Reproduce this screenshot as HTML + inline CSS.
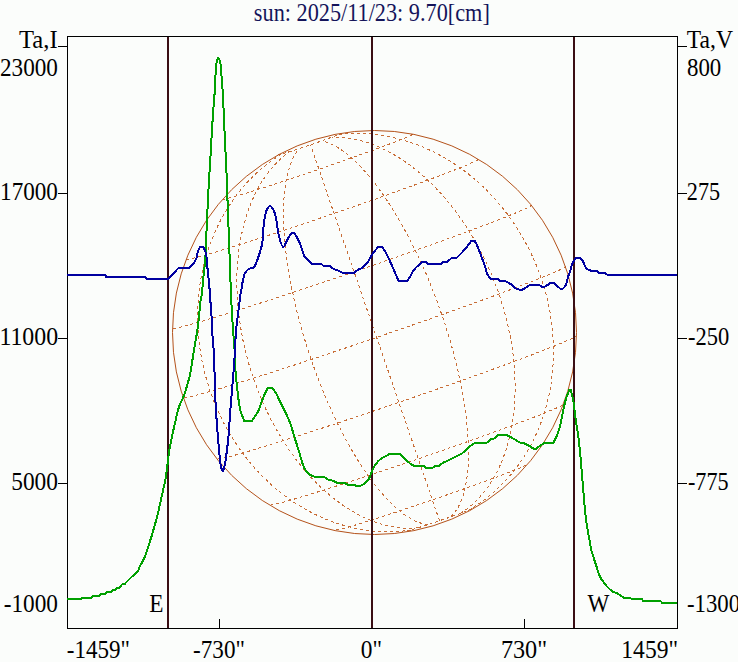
<!DOCTYPE html>
<html><head><meta charset="utf-8">
<style>
html,body{margin:0;padding:0;background:#FBFDFB;overflow:hidden;}
svg{display:block;}
text{font-family:"Liberation Serif", serif;font-size:24px;fill:#000;}
</style></head><body>
<svg width="738" height="662" viewBox="0 0 738 662">
<rect x="0" y="0" width="738" height="662" fill="#FBFDFB"/>
<g stroke="#000" stroke-width="1" fill="none" shape-rendering="crispEdges">
<rect x="67.5" y="36.5" width="610" height="592"/>
<path d="M58,46.5H67 M58,193.5H67 M58,338.5H67 M58,483.5H67"/>
<path d="M677,46.5H687 M677,193.5H687 M677,338.5H687 M677,483.5H687"/>
<path d="M219.5,619V628 M524.5,619V628"/>
</g>
<path d="M406.5,531.1 408.5,530.7 410.6,530.1 412.5,529.5 414.5,528.9 416.6,528.3 418.5,527.7 420.6,527.0 422.6,526.4 424.6,525.7 426.8,525.0 428.7,524.4 430.6,523.7 432.6,523.1 434.6,522.4 436.6,521.7 438.6,521.0 440.6,520.3 442.7,519.6 444.7,518.9 446.7,518.3 448.6,517.6 450.5,516.9 452.7,516.1 454.8,515.4 456.8,514.7 458.7,514.0 460.7,513.2 462.6,512.5 464.6,511.7 466.5,511.0 468.5,510.2 470.3,509.4 471.9,508.7 M336.1,529.9 338.2,529.7 340.3,529.2 342.6,528.7 344.5,528.2 346.7,527.5 348.7,527.0 350.9,526.4 353.2,525.7 355.2,525.1 357.2,524.5 359.4,523.8 361.6,523.1 363.9,522.4 366.3,521.7 368.8,520.9 370.7,520.3 372.7,519.7 374.7,519.1 376.7,518.4 378.8,517.7 380.9,517.1 383.0,516.4 385.2,515.7 387.4,515.0 389.6,514.2 391.9,513.5 394.2,512.7 396.5,512.0 398.8,511.2 401.2,510.4 403.6,509.6 406.0,508.8 408.4,508.0 410.8,507.2 413.3,506.4 415.7,505.6 418.2,504.7 420.7,503.9 423.2,503.0 425.7,502.2 428.2,501.3 430.7,500.5 433.2,499.6 435.7,498.8 438.2,497.9 440.7,497.0 443.1,496.2 445.6,495.3 448.1,494.5 450.5,493.6 453.0,492.8 455.4,491.9 457.8,491.1 460.2,490.2 462.6,489.4 464.9,488.5 467.3,487.7 469.6,486.9 471.9,486.1 474.1,485.3 476.3,484.5 478.5,483.7 480.7,482.9 482.8,482.1 484.9,481.4 486.9,480.6 488.9,479.9 490.9,479.2 492.9,478.4 494.7,477.7 497.2,476.8 499.6,475.9 501.9,475.1 504.1,474.2 506.2,473.4 508.2,472.6 510.1,471.9 512.4,471.0 514.6,470.1 516.5,469.3 518.7,468.5 520.6,467.6 522.5,466.8 524.4,465.9 526.3,464.9 526.8,464.5 M270.5,504.7 272.7,504.7 274.8,504.3 276.9,503.8 278.9,503.3 281.2,502.7 283.2,502.2 285.3,501.6 287.7,501.0 290.2,500.3 292.1,499.7 294.2,499.1 296.3,498.5 298.5,497.8 300.8,497.1 303.2,496.4 305.6,495.7 308.2,494.9 310.8,494.1 313.4,493.3 316.2,492.4 319.0,491.6 320.9,491.0 322.9,490.4 324.8,489.7 326.8,489.1 328.9,488.5 330.9,487.8 333.0,487.1 335.1,486.5 337.2,485.8 339.4,485.1 341.6,484.4 343.8,483.7 346.0,483.0 348.3,482.2 350.5,481.5 352.8,480.7 355.1,480.0 357.4,479.2 359.8,478.5 362.1,477.7 364.5,476.9 366.9,476.1 369.3,475.3 371.7,474.5 374.2,473.7 376.6,472.9 379.1,472.1 381.6,471.2 384.0,470.4 386.5,469.6 389.0,468.7 391.6,467.9 394.1,467.0 396.6,466.2 399.1,465.3 401.7,464.5 404.2,463.6 406.8,462.7 409.3,461.9 411.9,461.0 414.4,460.1 417.0,459.2 419.5,458.4 422.1,457.5 424.6,456.6 427.2,455.7 429.7,454.9 432.3,454.0 434.8,453.1 437.3,452.2 439.8,451.3 442.4,450.5 444.9,449.6 447.4,448.7 449.9,447.8 452.4,447.0 454.8,446.1 457.3,445.2 459.7,444.4 462.2,443.5 464.6,442.7 467.0,441.8 469.4,441.0 471.8,440.1 474.1,439.3 476.5,438.4 478.8,437.6 481.1,436.8 483.4,436.0 485.6,435.1 487.9,434.3 490.1,433.5 492.3,432.7 494.5,431.9 496.6,431.2 498.7,430.4 500.8,429.6 502.9,428.9 505.0,428.1 507.0,427.4 509.0,426.6 511.0,425.9 512.9,425.2 514.8,424.5 516.7,423.8 519.5,422.7 522.1,421.7 524.8,420.7 527.3,419.8 529.8,418.8 532.2,417.9 534.5,417.0 536.7,416.1 538.9,415.3 540.9,414.5 542.9,413.7 544.8,412.9 547.2,412.0 549.4,411.0 551.5,410.2 553.4,409.4 555.6,408.4 557.5,407.6 559.4,406.7 561.3,405.7 563.0,404.5 563.0,404.4 M217.7,458.7 219.8,458.7 221.9,458.4 224.2,457.9 226.5,457.4 228.5,456.8 230.8,456.3 233.2,455.6 235.2,455.1 237.3,454.5 239.5,453.9 241.8,453.2 244.2,452.6 246.7,451.8 249.3,451.1 252.0,450.2 254.8,449.4 256.8,448.8 258.7,448.2 260.8,447.6 262.8,447.0 264.9,446.4 267.1,445.7 269.2,445.0 271.5,444.3 273.7,443.6 276.0,442.9 278.3,442.2 280.7,441.4 283.1,440.7 285.5,439.9 288.0,439.1 290.5,438.3 293.1,437.5 295.6,436.7 298.2,435.9 300.9,435.0 303.5,434.2 306.2,433.3 308.9,432.4 311.7,431.5 314.4,430.6 317.2,429.7 320.0,428.8 322.9,427.9 325.7,426.9 328.6,426.0 331.5,425.0 334.5,424.1 337.4,423.1 340.4,422.1 343.3,421.1 346.3,420.1 349.4,419.1 352.4,418.1 355.4,417.1 358.5,416.1 361.5,415.1 364.6,414.0 367.7,413.0 370.8,411.9 373.9,410.9 377.0,409.8 380.1,408.8 383.2,407.7 386.4,406.7 389.5,405.6 392.6,404.5 395.8,403.4 398.9,402.4 402.0,401.3 405.2,400.2 408.3,399.1 411.4,398.1 414.5,397.0 417.6,395.9 420.7,394.8 423.8,393.8 426.9,392.7 430.0,391.6 433.1,390.5 436.2,389.5 439.2,388.4 442.2,387.3 445.3,386.3 448.3,385.2 451.3,384.1 454.3,383.1 457.2,382.0 460.2,381.0 463.1,380.0 466.0,378.9 468.9,377.9 471.7,376.9 474.6,375.9 477.4,374.9 480.2,373.9 482.9,372.9 485.7,371.9 488.4,370.9 491.1,369.9 493.7,368.9 496.3,368.0 498.9,367.0 501.5,366.1 504.0,365.2 506.5,364.3 509.0,363.4 511.4,362.5 513.8,361.6 516.2,360.7 518.5,359.8 520.8,359.0 523.0,358.1 525.3,357.3 527.4,356.5 529.6,355.7 531.7,354.9 533.7,354.1 535.7,353.3 537.7,352.6 539.6,351.8 541.5,351.1 544.2,350.0 546.9,349.0 549.4,348.0 551.8,347.0 554.2,346.1 556.4,345.2 558.5,344.3 560.5,343.5 562.4,342.7 564.7,341.7 566.8,340.8 568.8,340.0 570.9,339.0 573.0,338.0 574.8,337.0 576.5,335.7 576.5,335.6 M183.7,397.3 185.8,397.4 187.9,397.1 190.3,396.6 192.6,396.1 194.7,395.5 197.1,394.9 199.6,394.3 201.7,393.7 203.9,393.1 206.2,392.5 208.6,391.8 211.1,391.1 213.7,390.3 216.5,389.5 219.3,388.7 221.3,388.1 223.3,387.5 225.4,386.9 227.5,386.2 229.6,385.6 231.8,384.9 234.0,384.2 236.3,383.5 238.6,382.8 241.0,382.1 243.4,381.3 245.8,380.6 248.3,379.8 250.8,379.0 253.4,378.2 256.0,377.4 258.6,376.5 261.3,375.7 264.0,374.8 266.7,374.0 269.5,373.1 272.3,372.2 275.1,371.3 278.0,370.4 280.9,369.4 283.8,368.5 286.7,367.5 289.7,366.5 292.7,365.6 295.7,364.6 298.8,363.6 301.8,362.6 304.9,361.5 308.0,360.5 311.2,359.5 314.3,358.4 317.5,357.4 320.7,356.3 323.9,355.3 327.1,354.2 330.4,353.1 333.6,352.0 336.9,350.9 340.1,349.8 343.4,348.7 346.7,347.6 350.0,346.5 353.3,345.4 356.6,344.2 360.0,343.1 363.3,342.0 366.6,340.8 369.9,339.7 373.3,338.6 376.6,337.4 379.9,336.3 383.3,335.1 386.6,334.0 389.9,332.8 393.3,331.7 396.6,330.5 399.9,329.4 403.2,328.3 406.5,327.1 409.7,326.0 413.0,324.8 416.3,323.7 419.5,322.5 422.8,321.4 426.0,320.3 429.2,319.2 432.4,318.0 435.5,316.9 438.7,315.8 441.8,314.7 444.9,313.6 448.0,312.5 451.1,311.4 454.1,310.3 457.1,309.2 460.1,308.1 463.1,307.1 466.0,306.0 469.0,305.0 471.8,303.9 474.7,302.9 477.5,301.9 480.3,300.8 483.1,299.8 485.8,298.8 488.5,297.8 491.2,296.9 493.8,295.9 496.4,294.9 498.9,294.0 501.4,293.1 503.9,292.1 506.3,291.2 508.7,290.3 511.1,289.5 513.4,288.6 515.7,287.7 517.9,286.9 520.1,286.0 522.2,285.2 524.3,284.4 526.4,283.6 528.4,282.9 530.3,282.1 532.2,281.4 535.0,280.3 537.7,279.2 540.2,278.2 542.6,277.2 545.0,276.3 547.2,275.4 549.3,274.5 551.2,273.7 553.1,272.9 555.3,271.9 557.4,271.0 559.2,270.2 561.2,269.2 563.1,268.2 564.8,267.2 565.7,266.3 M172.8,328.0 174.8,328.2 177.1,327.8 179.4,327.3 181.7,326.8 183.7,326.3 186.0,325.7 188.4,325.0 190.4,324.5 192.5,323.9 194.7,323.3 197.0,322.7 199.4,322.0 201.9,321.2 204.5,320.5 207.2,319.7 210.1,318.8 212.0,318.2 214.0,317.7 216.0,317.0 218.0,316.4 220.1,315.8 222.3,315.1 224.5,314.4 226.7,313.8 228.9,313.1 231.2,312.3 233.6,311.6 235.9,310.9 238.3,310.1 240.8,309.3 243.2,308.6 245.7,307.8 248.3,307.0 250.8,306.1 253.4,305.3 256.1,304.5 258.7,303.6 261.4,302.7 264.1,301.9 266.9,301.0 269.6,300.1 272.4,299.2 275.2,298.2 278.1,297.3 281.0,296.4 283.8,295.4 286.7,294.5 289.7,293.5 292.6,292.5 295.6,291.5 298.6,290.6 301.6,289.6 304.6,288.6 307.6,287.5 310.6,286.5 313.7,285.5 316.8,284.5 319.8,283.4 322.9,282.4 326.0,281.4 329.1,280.3 332.2,279.3 335.3,278.2 338.5,277.1 341.6,276.1 344.7,275.0 347.8,273.9 351.0,272.9 354.1,271.8 357.2,270.7 360.4,269.6 363.5,268.6 366.6,267.5 369.7,266.4 372.9,265.3 376.0,264.3 379.1,263.2 382.2,262.1 385.2,261.0 388.3,260.0 391.4,258.9 394.4,257.8 397.5,256.7 400.5,255.7 403.5,254.6 406.5,253.6 409.5,252.5 412.4,251.5 415.4,250.4 418.3,249.4 421.2,248.3 424.1,247.3 426.9,246.3 429.8,245.3 432.6,244.3 435.4,243.3 438.1,242.3 440.9,241.3 443.6,240.3 446.3,239.3 448.9,238.4 451.6,237.4 454.1,236.5 456.7,235.5 459.2,234.6 461.7,233.7 464.2,232.8 466.6,231.9 469.0,231.0 471.4,230.1 473.7,229.2 476.0,228.4 478.3,227.5 480.5,226.7 482.6,225.9 484.8,225.1 486.9,224.3 488.9,223.5 490.9,222.7 492.9,222.0 494.8,221.2 496.7,220.5 499.4,219.5 502.1,218.4 504.6,217.4 507.0,216.5 509.4,215.5 511.6,214.6 513.7,213.8 515.7,212.9 517.6,212.1 519.9,211.2 522.1,210.2 524.0,209.4 526.1,208.4 528.2,207.4 530.0,206.4 531.7,205.1 531.7,204.9 M186.3,259.2 188.3,259.3 190.4,258.9 192.4,258.5 194.3,258.0 196.5,257.5 198.5,256.9 200.6,256.4 202.9,255.7 205.4,255.0 207.3,254.5 209.3,253.9 211.4,253.3 213.6,252.6 215.9,252.0 218.2,251.3 220.6,250.5 223.1,249.8 225.7,249.0 228.4,248.2 231.1,247.3 233.9,246.4 236.8,245.6 238.7,244.9 240.7,244.3 242.7,243.7 244.7,243.0 246.8,242.4 248.8,241.7 250.9,241.1 253.1,240.4 255.2,239.7 257.4,239.0 259.6,238.3 261.8,237.5 264.1,236.8 266.4,236.1 268.6,235.3 270.9,234.6 273.3,233.8 275.6,233.0 278.0,232.3 280.4,231.5 282.7,230.7 285.2,229.9 287.6,229.1 290.0,228.3 292.5,227.5 294.9,226.6 297.4,225.8 299.9,225.0 302.4,224.2 304.9,223.3 307.4,222.5 309.9,221.6 312.4,220.8 315.0,219.9 317.5,219.0 320.0,218.2 322.6,217.3 325.1,216.4 327.7,215.6 330.2,214.7 332.8,213.8 335.4,213.0 337.9,212.1 340.5,211.2 343.0,210.3 345.5,209.4 348.1,208.6 350.6,207.7 353.2,206.8 355.7,205.9 358.2,205.1 360.7,204.2 363.2,203.3 365.7,202.4 368.2,201.6 370.7,200.7 373.1,199.8 375.6,199.0 378.0,198.1 380.4,197.2 382.8,196.4 385.2,195.5 387.6,194.7 389.9,193.9 392.3,193.0 394.6,192.2 396.9,191.4 399.2,190.6 401.5,189.7 403.7,188.9 405.9,188.1 408.1,187.3 410.3,186.5 412.4,185.8 414.6,185.0 416.7,184.2 418.8,183.5 420.8,182.7 422.8,182.0 424.8,181.2 426.8,180.5 428.7,179.8 430.6,179.1 432.5,178.4 435.3,177.3 438.0,176.3 440.6,175.3 443.1,174.4 445.6,173.4 448.0,172.5 450.3,171.6 452.6,170.7 454.7,169.9 456.8,169.1 458.8,168.3 460.7,167.5 463.0,166.6 465.3,165.6 467.3,164.8 469.3,164.0 471.4,163.0 473.3,162.2 475.2,161.3 477.1,160.3 478.8,159.1 478.9,158.9 M222.5,199.2 224.6,199.1 226.7,198.6 228.9,198.1 231.1,197.5 233.3,196.9 235.3,196.3 237.5,195.7 239.8,195.0 241.8,194.4 243.8,193.8 246.0,193.2 248.2,192.5 250.5,191.8 252.9,191.0 255.4,190.3 257.3,189.7 259.3,189.0 261.3,188.4 263.3,187.8 265.4,187.1 267.5,186.4 269.6,185.7 271.8,185.0 274.0,184.3 276.2,183.6 278.5,182.8 280.8,182.1 283.1,181.3 285.4,180.6 287.8,179.8 290.2,179.0 292.6,178.2 295.0,177.4 297.4,176.6 299.9,175.7 302.3,174.9 304.8,174.1 307.3,173.2 309.8,172.4 312.3,171.5 314.8,170.7 317.3,169.8 319.8,169.0 322.3,168.1 324.8,167.3 327.3,166.4 329.7,165.5 332.2,164.7 334.7,163.8 337.1,163.0 339.6,162.1 342.0,161.3 344.4,160.4 346.8,159.6 349.2,158.7 351.5,157.9 353.9,157.1 356.2,156.3 358.5,155.4 360.7,154.6 362.9,153.8 365.1,153.0 367.3,152.3 369.4,151.5 371.5,150.7 373.5,150.0 375.6,149.2 377.5,148.5 379.5,147.8 381.4,147.1 383.8,146.2 386.2,145.3 388.5,144.4 390.7,143.6 392.8,142.8 394.8,142.0 396.7,141.2 399.0,140.3 401.2,139.5 403.1,138.7 405.3,137.8 407.2,137.0 409.1,136.2 411.0,135.3 412.9,134.3 413.5,133.7 M277.0,155.1 279.0,154.8 281.1,154.3 283.1,153.7 285.0,153.1 287.0,152.5 288.9,151.9 291.0,151.2 292.9,150.6 294.9,150.0 297.0,149.3 299.2,148.6 301.1,147.9 303.1,147.3 305.1,146.6 307.1,145.9 309.1,145.2 311.1,144.5 313.1,143.9 315.1,143.2 317.1,142.5 319.1,141.8 321.0,141.1 322.9,140.4 325.0,139.7 327.1,138.9 329.0,138.2 331.1,137.5 333.1,136.7 335.1,136.0 337.1,135.2 338.9,134.5 340.9,133.7 342.7,132.8 343.4,132.4 M410.6,530.1 407.6,530.5 404.5,530.9 401.5,531.2 398.4,531.4 395.4,531.6 392.3,531.7 389.2,531.7 386.1,531.7 383.0,531.6 380.0,531.5 376.9,531.3 373.8,531.1 370.7,530.8 367.6,530.4 364.5,529.9 361.4,529.4 358.4,528.9 355.3,528.3 352.2,527.6 349.2,526.9 346.1,526.1 343.1,525.2 340.0,524.3 337.0,523.3 334.0,522.3 331.0,521.2 328.0,520.1 325.0,518.9 322.1,517.6 319.1,516.3 316.2,514.9 313.3,513.5 310.4,512.0 307.5,510.5 304.7,508.9 301.9,507.2 299.1,505.5 296.3,503.8 293.5,501.9 290.8,500.1 288.1,498.2 285.4,496.2 282.8,494.2 280.1,492.1 277.5,490.0 275.0,487.9 272.4,485.7 269.9,483.4 267.5,481.1 265.0,478.8 262.6,476.4 260.2,474.0 257.9,471.5 255.6,469.0 253.3,466.4 251.1,463.8 248.9,461.2 246.7,458.5 244.6,455.8 242.6,453.0 240.5,450.2 238.5,447.4 236.6,444.5 234.7,441.6 232.8,438.7 231.0,435.7 229.2,432.7 227.5,429.7 225.8,426.6 224.1,423.6 222.5,420.4 221.0,417.3 219.5,414.1 218.0,410.9 216.6,407.7 215.2,404.5 213.9,401.2 212.6,397.9 211.4,394.6 210.2,391.3 209.1,388.0 208.1,384.6 207.0,381.2 206.1,377.9 205.2,374.5 204.3,371.0 203.5,367.6 202.7,364.2 202.0,360.7 201.4,357.3 200.8,353.8 200.2,350.3 199.7,346.8 199.3,343.4 198.9,339.9 198.6,336.4 198.3,332.9 198.1,329.4 197.9,325.9 197.8,322.4 197.7,318.9 197.7,315.5 197.7,312.0 197.8,308.5 198.0,305.1 198.2,301.6 198.4,298.2 198.8,294.7 199.1,291.3 199.5,287.9 200.0,284.5 200.5,281.1 201.1,277.7 201.7,274.4 202.4,271.1 203.2,267.7 204.0,264.4 204.8,261.2 205.7,257.9 206.6,254.7 207.6,251.5 208.7,248.3 209.8,245.1 210.9,242.0 212.1,238.9 213.4,235.8 214.7,232.8 216.0,229.7 217.4,226.8 218.8,223.8 220.3,220.9 221.9,218.0 223.4,215.1 225.1,212.3 226.7,209.5 228.4,206.8 230.2,204.1 232.0,201.4 233.9,198.8 235.8,196.2 237.7,193.7 239.7,191.2 241.7,188.7 243.7,186.3 245.8,183.9 248.0,181.6 250.2,179.3 252.4,177.1 254.6,174.9 256.9,172.7 259.2,170.7 261.6,168.6 264.0,166.6 266.4,164.7 268.9,162.8 271.4,160.9 273.9,159.2 276.4,157.4 279.0,155.7 281.6,154.1 M418.1,527.8 415.8,528.0 413.5,528.1 411.2,528.2 408.9,528.2 406.5,528.2 404.2,528.1 401.8,527.9 399.5,527.7 397.1,527.4 394.7,527.0 392.3,526.6 389.9,526.2 387.6,525.6 385.2,525.0 382.8,524.4 380.4,523.7 377.9,522.9 375.5,522.1 373.1,521.2 370.7,520.3 368.3,519.3 365.9,518.3 363.5,517.2 361.1,516.0 358.7,514.8 356.4,513.5 354.0,512.2 351.6,510.8 349.2,509.3 346.9,507.8 344.5,506.3 342.2,504.7 339.8,503.0 337.5,501.3 335.2,499.6 332.9,497.8 330.6,495.9 328.4,494.0 326.1,492.0 323.9,490.0 321.6,488.0 319.4,485.9 317.2,483.7 315.0,481.5 312.9,479.3 310.7,477.0 308.6,474.7 306.5,472.3 304.4,469.9 302.4,467.4 300.3,464.9 298.3,462.4 296.3,459.8 294.4,457.2 292.4,454.5 290.5,451.8 288.6,449.1 286.8,446.3 284.9,443.5 283.1,440.7 281.3,437.8 279.6,434.9 277.8,432.0 276.1,429.0 274.5,426.0 272.8,423.0 271.2,420.0 269.7,416.9 268.1,413.8 266.6,410.6 265.1,407.5 263.7,404.3 262.3,401.1 260.9,397.9 259.6,394.7 258.3,391.4 257.0,388.1 255.8,384.8 254.6,381.5 253.4,378.2 252.3,374.9 251.2,371.5 250.1,368.1 249.1,364.8 248.2,361.4 247.2,358.0 246.3,354.6 245.5,351.2 244.6,347.8 243.9,344.3 243.1,340.9 242.4,337.5 241.8,334.1 241.2,330.6 240.6,327.2 240.1,323.8 239.6,320.4 239.1,316.9 238.7,313.5 238.3,310.1 238.0,306.7 237.7,303.3 237.5,299.9 237.3,296.5 237.1,293.2 237.0,289.8 236.9,286.5 236.9,283.1 236.9,279.8 236.9,276.5 237.0,273.2 237.1,270.0 237.3,266.7 237.5,263.5 237.8,260.3 238.1,257.1 238.4,254.0 238.8,250.8 239.2,247.7 239.7,244.6 240.2,241.6 240.7,238.5 241.3,235.5 242.0,232.6 242.6,229.6 243.3,226.7 244.1,223.8 244.9,221.0 245.7,218.2 246.6,215.4 247.5,212.6 248.4,209.9 249.4,207.3 250.4,204.6 251.5,202.0 252.6,199.5 253.7,197.0 254.9,194.5 256.1,192.0 257.3,189.7 258.6,187.3 259.9,185.0 261.3,182.8 262.7,180.5 264.1,178.4 265.5,176.3 267.0,174.2 268.5,172.2 270.1,170.2 271.7,168.3 273.3,166.4 274.9,164.6 276.6,162.8 278.3,161.1 280.0,159.4 281.8,157.8 283.6,156.2 285.4,154.7 287.3,153.2 289.1,151.8 M428.1,524.6 425.5,524.2 423.5,523.9 421.5,523.3 419.4,522.7 417.3,521.9 415.2,521.0 413.0,519.9 410.9,518.7 408.7,517.4 406.4,516.0 404.2,514.4 401.9,512.8 399.6,510.9 397.3,509.0 395.8,507.7 394.2,506.2 392.7,504.8 391.1,503.3 389.5,501.7 388.0,500.1 386.4,498.4 384.8,496.7 383.2,494.9 381.6,493.1 380.0,491.2 378.5,489.3 376.9,487.4 375.3,485.3 373.7,483.3 372.1,481.2 370.5,479.0 368.9,476.8 367.3,474.6 365.7,472.3 364.2,470.0 362.6,467.6 361.0,465.2 359.4,462.7 357.9,460.2 356.3,457.7 354.7,455.1 353.2,452.5 351.6,449.9 350.1,447.2 348.6,444.5 347.1,441.8 345.5,439.0 344.0,436.2 342.5,433.3 341.1,430.4 339.6,427.5 338.1,424.6 336.7,421.6 335.2,418.6 333.8,415.6 332.4,412.6 331.0,409.5 329.6,406.4 328.2,403.3 326.9,400.1 325.5,397.0 324.2,393.8 322.9,390.6 321.6,387.4 320.3,384.2 319.0,380.9 317.7,377.7 316.5,374.4 315.3,371.1 314.1,367.8 312.9,364.5 311.8,361.2 310.6,357.8 309.5,354.5 308.4,351.1 307.3,347.8 306.2,344.4 305.2,341.1 304.2,337.7 303.2,334.3 302.2,331.0 301.2,327.6 300.3,324.2 299.4,320.9 298.5,317.5 297.6,314.2 296.8,310.8 296.0,307.5 295.2,304.1 294.4,300.8 293.7,297.5 293.0,294.2 292.3,290.9 291.6,287.6 291.0,284.3 290.3,281.1 289.7,277.8 289.2,274.6 288.6,271.4 288.1,268.2 287.6,265.0 287.2,261.9 286.7,258.8 286.3,255.7 285.9,252.6 285.6,249.5 285.3,246.5 285.0,243.5 284.7,240.5 284.4,237.5 284.2,234.6 284.0,231.7 283.9,228.9 283.7,226.0 283.6,223.2 283.5,220.5 283.5,217.7 283.5,215.0 283.5,212.4 283.5,209.7 283.6,207.2 283.7,204.6 283.8,202.1 283.9,199.6 284.1,197.2 284.3,194.8 284.5,192.4 284.8,190.1 285.0,187.9 285.3,185.7 285.7,183.5 286.0,181.4 286.4,179.3 286.8,177.2 287.3,175.2 288.0,172.3 288.8,169.5 289.6,166.9 290.5,164.3 291.4,161.9 292.4,159.5 293.5,157.3 294.6,155.2 295.8,153.2 297.0,151.4 298.3,149.7 299.2,148.6 M439.5,520.7 438.8,518.7 438.0,516.4 437.2,514.1 436.5,512.0 435.7,509.7 434.8,507.2 434.1,505.1 433.4,503.0 432.6,500.7 431.8,498.3 430.9,495.8 430.0,493.2 429.1,490.5 428.1,487.6 427.5,485.7 426.8,483.7 426.1,481.6 425.4,479.5 424.6,477.4 423.9,475.2 423.1,473.0 422.3,470.8 421.5,468.4 420.7,466.1 419.9,463.7 419.1,461.3 418.2,458.8 417.4,456.3 416.5,453.8 415.6,451.2 414.7,448.5 413.8,445.9 412.9,443.2 412.0,440.5 411.0,437.7 410.1,434.9 409.1,432.1 408.1,429.3 407.1,426.4 406.1,423.5 405.1,420.5 404.1,417.6 403.1,414.6 402.0,411.6 401.0,408.5 399.9,405.5 398.9,402.4 397.8,399.3 396.7,396.1 395.7,393.0 394.6,389.8 393.5,386.6 392.4,383.4 391.3,380.2 390.2,377.0 389.1,373.7 388.0,370.5 386.8,367.2 385.7,363.9 384.6,360.6 383.4,357.3 382.3,354.0 381.2,350.7 380.0,347.4 378.9,344.1 377.8,340.8 376.6,337.4 375.5,334.1 374.3,330.8 373.2,327.4 372.0,324.1 370.9,320.8 369.8,317.4 368.6,314.1 367.5,310.8 366.3,307.5 365.2,304.2 364.1,300.9 363.0,297.6 361.8,294.3 360.7,291.1 359.6,287.8 358.5,284.6 357.4,281.4 356.3,278.2 355.2,275.0 354.1,271.8 353.0,268.6 351.9,265.5 350.9,262.4 349.8,259.3 348.8,256.2 347.7,253.2 346.7,250.1 345.6,247.1 344.6,244.2 343.6,241.2 342.6,238.3 341.6,235.4 340.6,232.5 339.7,229.7 338.7,226.9 337.8,224.1 336.8,221.4 335.9,218.7 335.0,216.0 334.1,213.4 333.2,210.8 332.3,208.2 331.4,205.7 330.6,203.2 329.7,200.8 328.9,198.4 328.1,196.0 327.3,193.7 326.5,191.4 325.8,189.2 325.0,187.0 324.3,184.8 323.6,182.7 322.8,180.7 322.2,178.6 321.5,176.7 320.8,174.7 319.9,172.0 318.9,169.3 318.1,166.7 317.2,164.2 316.4,161.9 315.7,159.7 314.9,157.6 314.2,155.6 313.4,153.1 312.6,150.9 311.9,148.8 311.2,146.6 310.5,144.7 M450.8,516.8 452.7,514.9 454.0,513.4 455.3,511.7 456.5,509.9 457.7,508.0 458.8,506.0 459.9,503.9 460.9,501.6 461.8,499.2 462.7,496.7 463.5,494.1 464.2,491.4 464.9,488.5 465.6,485.6 466.0,483.6 466.3,481.5 466.7,479.4 467.0,477.3 467.2,475.1 467.5,472.8 467.7,470.5 467.9,468.2 468.1,465.8 468.2,463.4 468.3,461.0 468.4,458.5 468.4,455.9 468.4,453.4 468.4,450.8 468.4,448.1 468.3,445.5 468.2,442.8 468.1,440.0 468.0,437.2 467.8,434.4 467.6,431.6 467.4,428.7 467.1,425.8 466.8,422.9 466.5,419.9 466.1,416.9 465.8,413.9 465.3,410.9 464.9,407.8 464.5,404.8 464.0,401.7 463.5,398.5 462.9,395.4 462.4,392.2 461.8,389.0 461.1,385.8 460.5,382.6 459.8,379.4 459.1,376.1 458.4,372.9 457.6,369.6 456.9,366.3 456.1,363.0 455.2,359.7 454.4,356.4 453.5,353.1 452.6,349.8 451.7,346.4 450.8,343.1 449.8,339.7 448.8,336.4 447.8,333.1 446.7,329.7 445.7,326.4 444.6,323.0 443.5,319.7 442.4,316.3 441.2,313.0 440.1,309.7 438.9,306.4 437.7,303.1 436.5,299.8 435.2,296.5 434.0,293.2 432.7,289.9 431.4,286.7 430.1,283.4 428.8,280.2 427.4,277.0 426.1,273.8 424.7,270.6 423.3,267.4 421.9,264.3 420.5,261.2 419.0,258.1 417.6,255.0 416.1,251.9 414.6,248.9 413.1,245.9 411.6,242.9 410.1,240.0 408.6,237.1 407.1,234.2 405.5,231.3 404.0,228.5 402.4,225.7 400.9,222.9 399.3,220.2 397.7,217.5 396.1,214.8 394.5,212.2 392.9,209.6 391.3,207.0 389.7,204.5 388.1,202.0 386.5,199.6 384.8,197.2 383.2,194.8 381.6,192.5 379.9,190.2 378.3,188.0 376.7,185.8 375.0,183.6 373.4,181.5 371.8,179.5 370.1,177.5 368.5,175.5 366.9,173.6 365.2,171.7 363.6,169.9 362.0,168.1 360.4,166.4 358.7,164.8 357.1,163.1 355.5,161.6 353.9,160.1 352.3,158.6 350.8,157.2 349.2,155.8 347.6,154.5 345.3,152.7 342.9,151.0 340.6,149.4 338.4,147.9 336.1,146.5 333.9,145.3 331.7,144.2 329.5,143.2 327.4,142.4 325.3,141.7 323.2,141.1 321.9,140.8 M460.7,513.2 462.6,511.9 464.5,510.6 466.4,509.3 468.3,507.9 470.1,506.4 471.9,504.9 473.6,503.3 475.3,501.6 477.0,500.0 478.7,498.2 480.3,496.4 481.9,494.6 483.5,492.7 485.0,490.8 486.5,488.8 488.0,486.8 489.4,484.7 490.8,482.6 492.2,480.4 493.5,478.2 494.8,475.9 496.0,473.6 497.2,471.3 498.4,468.9 499.6,466.5 500.7,464.0 501.7,461.5 502.8,458.9 503.7,456.4 504.7,453.7 505.6,451.1 506.5,448.4 507.3,445.6 508.1,442.8 508.8,440.0 509.5,437.2 510.2,434.3 510.8,431.4 511.4,428.5 511.9,425.5 512.4,422.5 512.9,419.5 513.3,416.5 513.7,413.4 514.0,410.3 514.3,407.2 514.5,404.1 514.7,400.9 514.9,397.7 515.0,394.5 515.1,391.3 515.1,388.0 515.1,384.8 515.0,381.5 514.9,378.2 514.8,374.9 514.6,371.6 514.4,368.3 514.1,364.9 513.8,361.6 513.5,358.2 513.1,354.8 512.6,351.5 512.2,348.1 511.6,344.7 511.1,341.3 510.5,337.9 509.8,334.5 509.1,331.1 508.4,327.7 507.6,324.3 506.8,320.9 506.0,317.5 505.1,314.2 504.2,310.8 503.2,307.4 502.2,304.0 501.1,300.7 500.0,297.3 498.9,294.0 497.8,290.7 496.6,287.4 495.3,284.1 494.0,280.8 492.7,277.5 491.4,274.3 490.0,271.0 488.6,267.8 487.1,264.6 485.7,261.4 484.1,258.3 482.6,255.1 481.0,252.0 479.4,248.9 477.7,245.9 476.1,242.8 474.3,239.8 472.6,236.9 470.8,233.9 469.0,231.0 467.2,228.1 465.3,225.2 463.5,222.4 461.5,219.6 459.6,216.9 457.6,214.1 455.7,211.4 453.6,208.8 451.6,206.2 449.5,203.6 447.5,201.1 445.3,198.6 443.2,196.1 441.1,193.7 438.9,191.3 436.7,189.0 434.5,186.7 432.3,184.5 430.0,182.3 427.8,180.1 425.5,178.0 423.2,176.0 420.9,174.0 418.6,172.0 416.2,170.1 413.9,168.2 411.5,166.4 409.2,164.6 406.8,162.9 404.4,161.3 402.0,159.6 399.6,158.1 397.2,156.6 394.7,155.1 392.3,153.7 389.9,152.4 387.4,151.1 385.0,149.9 382.5,148.7 380.1,147.6 377.6,146.5 375.2,145.5 372.7,144.5 370.3,143.6 367.8,142.8 365.4,142.0 363.0,141.3 360.5,140.6 358.1,140.0 355.6,139.5 353.2,139.0 350.8,138.5 348.4,138.2 346.0,137.9 343.6,137.6 341.2,137.4 338.8,137.3 336.5,137.2 334.1,137.2 331.8,137.2 M468.0,510.4 470.7,508.9 473.3,507.3 475.9,505.6 478.4,503.9 481.0,502.2 483.5,500.4 485.9,498.6 488.3,496.7 490.7,494.7 493.1,492.7 495.4,490.7 497.7,488.6 499.9,486.4 502.1,484.2 504.3,482.0 506.4,479.7 508.5,477.4 510.6,475.0 512.6,472.6 514.6,470.1 516.5,467.6 518.4,465.1 520.2,462.5 522.0,459.9 523.7,457.2 525.4,454.5 527.1,451.8 528.7,449.0 530.2,446.2 531.8,443.4 533.2,440.5 534.6,437.6 536.0,434.6 537.3,431.6 538.6,428.6 539.8,425.6 541.0,422.5 542.1,419.4 543.2,416.3 544.2,413.2 545.2,410.0 546.1,406.8 546.9,403.6 547.7,400.4 548.5,397.1 549.2,393.8 549.9,390.5 550.4,387.2 551.0,383.9 551.5,380.5 551.9,377.2 552.3,373.8 552.6,370.4 552.9,367.0 553.1,363.6 553.3,360.2 553.4,356.7 553.4,353.3 553.4,349.9 553.4,346.4 553.3,343.0 553.1,339.5 552.9,336.0 552.6,332.6 552.3,329.1 551.9,325.7 551.5,322.2 551.0,318.7 550.5,315.3 549.9,311.8 549.2,308.4 548.5,305.0 547.8,301.5 547.0,298.1 546.1,294.7 545.2,291.3 544.2,287.9 543.2,284.6 542.2,281.2 541.0,277.9 539.9,274.5 538.6,271.2 537.4,268.0 536.1,264.7 534.7,261.4 533.3,258.2 531.8,255.0 530.3,251.8 528.7,248.7 527.1,245.5 525.5,242.4 523.8,239.4 522.0,236.3 520.3,233.3 518.4,230.3 516.5,227.3 514.6,224.4 512.7,221.5 510.7,218.7 508.6,215.8 506.5,213.0 504.4,210.3 502.2,207.6 500.0,204.9 497.8,202.2 495.5,199.6 493.2,197.1 490.8,194.6 488.4,192.1 486.0,189.6 483.6,187.2 481.1,184.9 478.5,182.6 476.0,180.3 473.4,178.1 470.8,176.0 468.1,173.8 465.5,171.8 462.8,169.7 460.0,167.8 457.3,165.8 454.5,164.0 451.7,162.2 448.9,160.4 446.0,158.7 443.1,157.0 440.2,155.4 437.3,153.8 434.4,152.3 431.5,150.9 428.5,149.5 425.5,148.2 422.5,146.9 419.5,145.6 416.5,144.5 413.4,143.4 410.4,142.3 407.3,141.3 404.2,140.4 401.2,139.5 398.1,138.7 395.0,137.9 391.9,137.2 388.8,136.6 385.6,136.0 382.5,135.4 379.4,135.0 376.3,134.6 373.2,134.2 370.0,133.9 366.9,133.7 363.8,133.6 360.7,133.4 357.6,133.4 354.5,133.4 351.4,133.5 348.3,133.6 345.2,133.8 342.1,134.1 339.1,134.4" stroke="#C86E38" stroke-width="1" fill="none" stroke-dasharray="3 3" shape-rendering="crispEdges"/>
<circle cx="374.5" cy="332.5" r="202" stroke="#B4521A" stroke-width="1" fill="none"/>
<g fill="#3a0e14" shape-rendering="crispEdges">
<rect x="167" y="37" width="2" height="591"/>
<rect x="371" y="37" width="2" height="591"/>
<rect x="573" y="37" width="2" height="591"/>
</g>
<path d="M67.00,599.00 L81.10,599.00 L82.00,597.70 L91.70,597.70 L93.30,596.10 L95.00,595.90 C96.50,595.83 98.00,595.77 99.50,595.70 L100.70,593.80 L105.20,593.80 L106.70,591.80 L111.20,591.80 L112.70,589.80 L115.40,589.80 L116.90,587.80 L119.20,587.80 C120.33,586.47 121.47,585.13 122.60,583.80 L124.80,583.80 C126.97,581.60 129.10,579.37 131.30,577.20 C133.50,575.03 136.63,572.86 138.00,570.80 C138.95,569.36 138.96,567.94 139.60,566.60 C140.23,565.28 141.05,564.18 141.80,562.80 C142.67,561.21 143.61,559.68 144.50,557.60 C145.73,554.73 146.85,550.82 148.10,547.00 C149.56,542.55 151.22,537.49 152.70,532.50 C154.26,527.24 155.76,521.92 157.20,516.20 C158.78,509.91 160.29,502.60 161.70,496.30 C162.97,490.60 164.35,485.11 165.30,480.00 C166.13,475.52 166.65,471.50 167.20,467.30 C167.74,463.17 167.95,459.40 168.60,455.00 C169.35,449.87 170.55,443.65 171.60,438.40 C172.56,433.63 173.58,429.32 174.60,424.80 C175.62,420.29 176.67,415.02 177.70,411.30 C178.44,408.63 178.99,406.86 179.90,404.50 C180.94,401.82 182.52,399.19 183.70,396.10 C185.08,392.49 186.40,387.83 187.50,384.10 C188.46,380.87 189.22,378.59 190.00,375.00 C191.10,369.94 192.03,362.43 193.00,356.50 C193.90,351.00 194.81,345.26 195.60,340.60 C196.22,336.94 196.77,334.44 197.30,330.80 C197.96,326.25 198.57,320.38 199.10,315.40 C199.60,310.73 199.86,305.55 200.40,301.80 C200.78,299.13 201.29,297.85 201.70,295.00 C202.38,290.24 202.88,282.02 203.50,275.80 C204.08,269.91 204.84,264.73 205.30,258.60 C205.82,251.59 205.94,244.00 206.30,236.00 C206.70,226.94 207.14,216.51 207.60,207.00 C208.04,197.79 208.50,188.53 209.00,179.80 C209.47,171.68 210.04,163.99 210.50,156.30 C210.94,148.90 211.27,141.77 211.70,134.50 C212.13,127.21 212.60,119.67 213.10,112.60 C213.57,105.96 214.20,99.63 214.60,93.30 C214.99,87.17 215.14,80.63 215.50,75.20 C215.79,70.76 215.87,66.30 216.50,63.10 C216.93,60.91 217.56,57.73 218.20,57.70 C218.85,57.67 219.85,60.81 220.40,63.10 C221.26,66.71 221.21,72.67 221.60,77.60 C222.01,82.73 222.46,87.79 222.80,93.30 C223.18,99.40 223.38,105.50 223.70,112.60 C224.10,121.33 224.56,132.60 225.00,141.80 C225.39,150.06 225.85,157.46 226.20,165.30 C226.55,173.16 226.81,180.89 227.10,188.90 C227.41,197.21 227.69,206.17 228.00,214.30 C228.29,221.82 228.56,227.15 228.90,236.00 C229.44,249.97 230.24,276.82 230.80,290.00 C231.12,297.61 231.35,301.65 231.70,308.00 C232.10,315.15 232.61,324.10 233.10,330.80 C233.49,336.09 233.96,339.66 234.30,345.00 C234.74,351.87 234.78,361.11 235.30,368.60 C235.78,375.44 236.41,381.52 237.20,388.20 C238.03,395.23 238.74,403.90 240.20,409.80 C241.26,414.08 242.80,417.00 244.10,420.60 L252.00,420.60 C253.97,417.67 256.11,415.28 257.90,411.80 C260.15,407.41 261.94,400.34 263.80,396.00 C265.15,392.85 266.40,390.67 267.70,388.00 L272.20,388.00 C273.43,389.70 274.75,391.19 275.90,393.10 C277.21,395.27 278.17,397.73 279.50,400.40 C281.11,403.65 283.14,407.43 284.90,411.20 C286.78,415.24 288.76,419.48 290.40,423.90 C292.11,428.53 293.40,433.57 294.90,438.40 C296.40,443.23 297.88,448.07 299.40,452.90 C300.92,457.74 302.14,463.65 304.00,467.40 C305.33,470.09 306.63,472.22 308.50,473.80 C310.27,475.29 312.70,475.80 314.80,476.80 L323.90,476.80 C325.40,477.77 326.76,479.00 328.40,479.70 C330.09,480.42 332.43,480.36 333.90,481.00 C335.01,481.48 335.70,482.20 336.60,482.80 L344.70,482.80 C345.63,483.40 346.57,484.00 347.50,484.60 L354.70,484.60 C355.60,485.23 356.29,486.34 357.40,486.50 C358.87,486.71 361.17,485.62 362.90,484.60 C364.83,483.45 366.74,481.88 368.30,479.70 C370.33,476.86 371.45,471.61 373.20,468.40 C374.62,465.80 376.07,463.51 377.70,461.70 C379.07,460.17 380.63,458.97 382.10,458.00 C383.36,457.17 384.65,456.77 385.90,456.10 C387.15,455.43 388.37,454.70 389.60,454.00 L400.00,454.00 C401.73,455.67 403.52,457.41 405.20,459.00 C406.75,460.47 408.22,462.07 409.70,463.20 C410.95,464.15 412.17,464.73 413.40,465.50 L423.90,465.50 C424.63,466.23 425.37,466.97 426.10,467.70 L432.80,467.70 L435.00,465.90 L438.80,465.90 C440.03,465.00 441.08,464.07 442.50,463.20 C444.22,462.15 446.51,461.19 448.50,460.20 C450.47,459.22 452.32,458.34 454.40,457.30 C456.75,456.13 459.64,455.03 461.90,453.50 C464.09,452.02 466.06,449.84 467.80,448.30 C469.18,447.08 470.18,445.96 471.50,445.00 C472.79,444.06 474.23,443.40 475.60,442.60 L487.00,442.60 C488.33,441.50 489.65,439.97 491.00,439.30 C492.09,438.75 493.29,439.10 494.30,438.50 C495.49,437.79 496.43,436.17 497.50,435.00 L506.50,435.00 C507.83,435.63 508.89,436.05 510.50,436.90 C513.07,438.25 517.86,441.73 520.30,442.60 C521.60,443.06 522.28,442.71 523.50,443.10 C525.32,443.68 528.00,445.24 530.00,446.30 C531.76,447.24 533.28,449.15 534.90,449.10 C536.55,449.05 538.17,446.98 539.80,445.90 C541.44,444.81 543.07,443.70 544.70,442.60 L553.60,442.60 C554.97,439.63 556.52,436.90 557.70,433.70 C558.99,430.18 559.97,426.24 560.90,422.30 C561.88,418.13 562.52,413.32 563.40,409.30 C564.17,405.79 564.85,402.71 565.80,399.50 C566.75,396.31 568.00,393.23 569.10,390.10 L570.70,390.10 C571.50,393.23 572.39,395.78 573.10,399.50 C574.11,404.80 574.67,412.37 575.60,419.00 C576.57,425.92 577.92,433.09 578.80,440.20 C579.69,447.35 580.19,453.86 580.90,461.80 C581.78,471.55 582.66,484.03 583.60,494.40 C584.46,503.88 585.19,513.43 586.30,521.60 C587.22,528.35 588.55,534.68 589.50,540.00 C590.23,544.08 590.72,547.63 591.50,550.80 C592.13,553.35 592.84,555.24 593.60,557.60 C594.43,560.19 595.36,562.84 596.30,565.70 C597.35,568.90 598.16,572.84 599.60,575.90 C600.92,578.69 602.43,580.96 604.40,583.40 C606.63,586.17 609.99,589.82 612.50,591.50 C614.19,592.63 615.65,592.61 617.30,593.50 C619.26,594.55 621.37,596.23 623.40,597.60 L630.10,597.60 L631.50,598.90 L641.70,598.90 L643.00,601.00 L660.60,601.00 L662.00,602.60 L677.00,602.60" stroke="#00A000" stroke-width="2" fill="none" shape-rendering="crispEdges"/>
<path d="M67.00,274.80 L105.20,274.80 L106.00,277.00 L145.40,277.00 L146.50,279.00 L168.20,279.00 C171.67,275.27 175.13,271.53 178.60,267.80 L189.20,267.80 C190.80,266.23 192.75,264.89 194.00,263.10 C195.23,261.34 196.03,259.20 196.70,257.20 C197.35,255.27 197.36,253.10 198.00,251.30 C198.59,249.66 199.53,248.30 200.30,246.80 L203.00,246.80 C203.77,248.30 204.71,249.57 205.30,251.30 C206.02,253.40 206.33,255.91 206.70,258.60 C207.15,261.86 207.23,265.75 207.60,269.50 C207.99,273.53 208.60,277.76 209.00,282.00 C209.41,286.39 209.68,291.00 210.00,295.40 C210.31,299.66 210.59,303.58 210.90,308.00 C211.25,312.90 211.70,318.26 212.00,323.50 C212.31,328.89 212.36,335.10 212.70,339.90 C212.97,343.68 213.42,345.89 213.70,350.00 C214.13,356.38 214.30,365.95 214.60,374.50 C214.93,383.88 215.10,394.18 215.60,404.00 C216.10,413.81 217.02,425.84 217.60,433.40 C217.97,438.15 218.22,440.87 218.60,445.00 C219.04,449.73 219.59,456.02 220.10,460.20 C220.46,463.14 220.52,465.75 221.20,467.70 C221.68,469.08 222.59,471.05 223.10,471.00 C223.58,470.95 223.86,468.98 224.20,467.70 C224.65,466.01 225.01,464.02 225.40,461.70 C225.93,458.53 226.42,454.29 226.90,450.40 C227.42,446.24 227.90,442.81 228.40,437.50 C229.20,428.95 229.95,414.81 230.80,404.00 C231.59,393.85 232.55,384.34 233.30,374.50 C234.05,364.67 234.88,352.74 235.30,345.00 C235.57,339.99 235.46,336.95 235.80,332.60 C236.18,327.74 237.02,321.89 237.60,317.20 C238.08,313.25 238.55,309.93 239.00,306.30 C239.45,302.67 239.82,298.55 240.30,295.40 C240.67,292.98 241.13,291.14 241.50,289.00 C241.87,286.84 242.02,284.83 242.50,282.50 C243.07,279.73 243.57,275.88 244.80,273.50 C245.78,271.61 247.05,270.00 248.60,269.00 C250.10,268.03 252.64,268.55 253.90,267.50 C255.10,266.50 255.32,264.84 256.10,263.00 C257.27,260.24 258.86,255.82 259.90,252.40 C260.85,249.27 261.60,246.88 262.20,243.30 C263.03,238.32 262.89,230.94 263.70,225.20 C264.44,219.92 265.10,213.45 266.70,210.10 C267.65,208.10 269.03,205.85 270.20,205.90 C271.52,205.95 273.18,209.37 274.20,211.60 C275.39,214.19 275.81,217.27 276.50,220.70 C277.39,225.08 277.55,231.20 278.80,235.80 C279.92,239.91 281.69,247.01 283.30,247.10 C284.72,247.18 286.09,241.27 287.80,238.80 C289.38,236.51 291.31,232.57 293.10,232.70 C295.33,232.86 298.04,239.48 299.90,243.30 C301.83,247.26 302.23,252.53 304.40,256.10 C306.34,259.29 309.33,261.37 311.80,264.00 L321.30,264.00 L323.30,265.70 L329.40,265.70 C330.30,266.50 330.97,267.39 332.10,268.10 C333.53,269.01 335.70,269.62 337.50,270.40 C339.30,271.18 341.10,272.00 342.90,272.80 L353.80,272.80 C355.60,271.53 357.40,270.27 359.20,269.00 L361.90,268.40 C363.70,266.57 365.62,265.10 367.30,262.90 C369.30,260.28 370.85,256.28 372.80,253.50 C374.51,251.06 376.40,249.17 378.20,247.00 L382.20,247.00 C383.57,249.17 384.70,250.52 386.30,253.50 C389.45,259.37 394.43,271.57 398.50,280.60 L407.20,280.60 C408.10,279.47 408.97,278.60 409.90,277.20 C411.21,275.23 412.17,272.09 414.00,269.70 C416.10,266.96 419.40,264.50 422.10,261.90 L426.20,261.90 L428.20,264.00 L441.10,264.00 L443.10,261.90 L447.20,261.90 C448.77,260.53 450.33,259.17 451.90,257.80 L456.70,257.80 C459.63,254.77 463.01,251.66 465.50,248.70 C467.62,246.18 469.10,243.77 470.90,241.30 L475.00,241.30 C475.90,243.10 476.77,244.56 477.70,246.70 C478.98,249.65 480.36,253.87 481.70,257.50 C483.06,261.20 484.89,265.73 485.80,268.70 C486.39,270.62 486.31,271.93 487.00,273.50 C487.77,275.24 489.27,276.90 490.40,278.60 L497.90,278.60 L499.90,280.50 L504.00,280.50 C505.13,281.10 506.18,281.63 507.40,282.30 C508.85,283.10 510.64,283.95 512.10,285.00 C513.57,286.05 514.81,287.81 516.20,288.60 C517.32,289.24 518.47,289.33 519.60,289.70 L522.30,289.70 C523.43,289.03 524.53,288.44 525.70,287.70 C526.99,286.89 528.37,285.90 529.70,285.00 L539.20,285.00 C540.10,285.57 541.00,286.13 541.90,286.70 L544.60,286.70 C545.73,286.03 546.87,285.37 548.00,284.70 L550.00,282.90 L553.40,282.90 C554.53,283.83 555.67,284.75 556.80,285.70 C557.94,286.65 559.07,287.63 560.20,288.60 L562.90,288.60 C563.80,287.63 564.87,287.01 565.60,285.70 C566.63,283.87 566.92,280.74 567.70,278.20 C568.51,275.54 569.58,272.64 570.40,270.10 C571.13,267.84 571.50,265.69 572.40,263.70 C573.28,261.77 574.60,260.10 575.70,258.30 L580.60,258.30 C581.40,259.30 582.21,260.03 583.00,261.30 C584.12,263.10 584.94,266.81 586.30,268.30 C587.24,269.34 588.43,269.57 589.50,270.20 L591.10,270.70 L596.80,270.70 C597.63,271.47 598.47,272.23 599.30,273.00 L605.00,273.00 L607.40,274.80 L677.00,274.80" stroke="#0000A0" stroke-width="2" fill="none" shape-rendering="crispEdges"/>
<g>
<text transform="translate(253.87,21) scale(0.928,1.067)" style="fill:#14145a">sun: 2025/11/23: 9.70[cm]</text>
<text transform="translate(19.00,48) scale(1.027,1.067)">Ta,I</text>
<text transform="translate(0.03,76) scale(0.966,1.067)">23000</text>
<text transform="translate(0.11,200) scale(0.963,1.067)">17000</text>
<text transform="translate(-0.58,345) scale(0.993,1.067)">11000</text>
<text transform="translate(11.23,490) scale(0.974,1.067)">5000</text>
<text transform="translate(3.73,612) scale(0.969,1.067)">-1000</text>
<text transform="translate(686.80,48) scale(0.983,1.067)">Ta,V</text>
<text transform="translate(686.95,76) scale(0.953,1.067)">800</text>
<text transform="translate(686.77,200) scale(0.926,1.067)">275</text>
<text transform="translate(687.96,345) scale(0.938,1.067)">-250</text>
<text transform="translate(687.98,490) scale(0.924,1.067)">-775</text>
<text transform="translate(66.84,658) scale(0.960,1.067)">-1459&quot;</text>
<text transform="translate(193.04,658) scale(0.965,1.067)">-730&quot;</text>
<text transform="translate(360.73,658) scale(0.974,1.067)">0&quot;</text>
<text transform="translate(500.88,658) scale(1.010,1.067)">730&quot;</text>
<text transform="translate(621.36,658) scale(0.981,1.067)">1459&quot;</text>
<text transform="translate(149.23,612) scale(0.969,1.067)">E</text>
<text transform="translate(587.50,612) scale(0.964,1.067)">W</text>
<text transform="translate(686.9,612) scale(0.95,1.067)">-1300</text>
</g>
</svg>
</body></html>
